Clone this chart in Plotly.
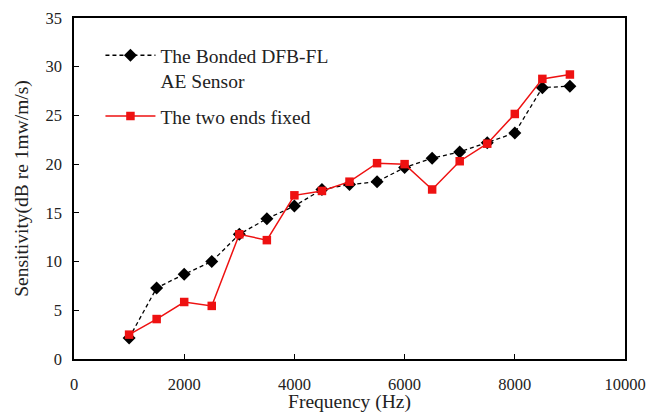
import plotly.graph_objects as go

freq = [1000, 1500, 2000, 2500, 3000, 3500, 4000, 4500, 5000, 5500, 6000, 6500, 7000, 7500, 8000, 8500, 9000]
bonded = [2.15, 7.3, 8.7, 10.0, 12.8, 14.4, 15.7, 17.4, 17.9, 18.2, 19.65, 20.6, 21.25, 22.2, 23.2, 27.85, 28.0]
two_ends = [2.5, 4.1, 5.85, 5.45, 12.8, 12.2, 16.8, 17.25, 18.2, 20.1, 20.0, 17.4, 20.3, 22.1, 25.15, 28.75, 29.2]

x_ticks = [0, 2000, 4000, 6000, 8000, 10000]
x_ticklabels = ["0", "2000", "4000", "6000", "8000", "10000"]
y_ticks = [0, 5, 10, 15, 20, 25, 30, 35]

FONT = "Liberation Serif"
TXT = "#222"

fig = go.Figure()
fig.add_trace(go.Scatter(
    x=freq, y=bonded, mode="lines+markers",
    name="The Bonded DFB-FL<br>AE Sensor",
    line=dict(color="black", width=1.3, dash="4px,3px"),
    marker=dict(symbol="diamond", size=10, color="black"),
    legendgroup="a",
))
fig.add_trace(go.Scatter(
    x=freq, y=two_ends, mode="lines+markers",
    name="The two ends fixed",
    line=dict(color="#ee1111", width=1.5),
    marker=dict(symbol="square", size=8.5, color="#ee1111"),
    legendgroup="b",
))

axis_common = dict(
    showline=True, linecolor="black", linewidth=1.5, mirror=True,
    ticks="inside", ticklen=5, tickcolor="black", tickwidth=1,
    showgrid=False, zeroline=False, automargin=False,
    tickfont=dict(family=FONT, size=16.5, color=TXT),
)

fig.update_layout(
    width=647, height=413,
    margin=dict(l=74, r=22, t=18, b=54),
    paper_bgcolor="white", plot_bgcolor="white",
    font=dict(family=FONT, size=16, color=TXT),
    showlegend=True,
    legend=dict(
        x=0.048, y=0.947, xanchor="left", yanchor="top",
        bgcolor="rgba(0,0,0,0)", tracegroupgap=7, valign="top",
        font=dict(family=FONT, size=19.5, color=TXT),
        itemwidth=50,
    ),
    xaxis=dict(range=[0, 10000], tickvals=x_ticks, ticktext=x_ticklabels,
               ticklabelstandoff=9,
               title=dict(text="Frequency (Hz)", font=dict(family=FONT, size=19.5, color=TXT), standoff=4),
               **axis_common),
    yaxis=dict(range=[0, 35], tickvals=y_ticks,
               ticklabelstandoff=7,
               title=dict(text="Sensitivity(dB re 1mw/m/s)", font=dict(family=FONT, size=19.5, color=TXT), standoff=12),
               **axis_common),
)

fig.write_html("out.html")
